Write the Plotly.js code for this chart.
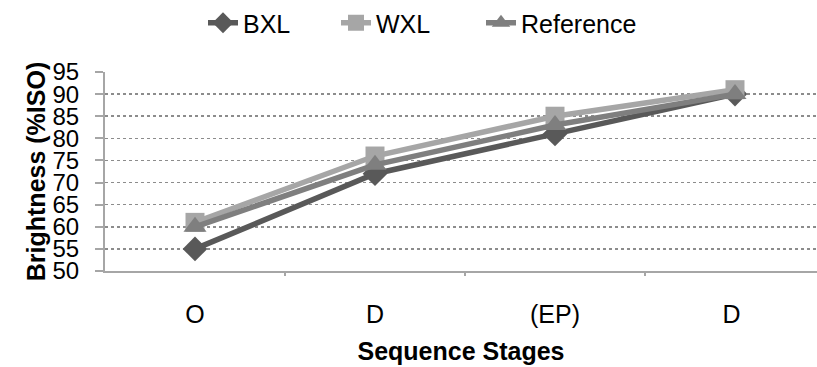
<!DOCTYPE html>
<html>
<head>
<meta charset="utf-8">
<script src="https://cdn.plot.ly/plotly-3.0.1.min.js"></script>
<style>
  html, body { margin: 0; padding: 0; background: #fff; }
  #chart { width: 817px; height: 367px; }
</style>
</head>
<body>
<div id="chart"></div>
<script>
// Brightness across the sequence stages
const stages = ['O', 'D', '(EP)', 'D '];
const bxl = [55, 72, 81, 90];
const wxl = [61, 76, 85, 91];
const reference = [60, 74, 83, 90];
const yTicks = [50, 55, 60, 65, 70, 75, 80, 85, 90, 95];

const FONT = 'Liberation Sans, Arial, sans-serif';
const idx = stages.map((_, i) => i);

function series(name, values, color, symbol, size, legendId) {
  return {
    type: 'scatter',
    mode: 'lines+markers',
    name: name,
    legend: legendId,
    x: idx,
    y: values,
    line: { color: color, width: 5.5 },
    marker: { color: color, symbol: symbol, size: size }
  };
}

const data = [
  series('BXL', bxl, '#595959', 'diamond', 19, 'legend'),
  series('WXL', wxl, '#a6a6a6', 'square', 19, 'legend2'),
  series('Reference', reference, '#7f7f7f', 'triangle-up', 20, 'legend3')
];

// one legend box per series, laid out in a row above the plot
function legendAt(px) {
  return {
    orientation: 'h',
    xref: 'container', yref: 'container',
    x: px / 817, xanchor: 'left',
    y: 1.0, yanchor: 'top',
    font: { family: FONT, size: 25, color: '#000' },
    bgcolor: 'rgba(0,0,0,0)'
  };
}

const layout = {
  width: 817,
  height: 367,
  margin: { l: 105, r: 0, t: 72, b: 96 },
  paper_bgcolor: '#ffffff',
  plot_bgcolor: '#ffffff',
  font: { family: FONT, size: 24, color: '#000' },
  showlegend: true,
  legend: legendAt(203),
  legend2: legendAt(336),
  legend3: legendAt(481),
  xaxis: {
    type: 'linear',
    range: [-0.5, -0.5 + 712 / 180],
    tickmode: 'array',
    tickvals: idx,
    ticktext: stages,
    ticks: '',
    showgrid: false,
    zeroline: false,
    showline: true,
    linecolor: '#a6a6a6',
    linewidth: 2,
    ticklabelstandoff: 20,
    tickfont: { family: FONT, size: 25, color: '#000' },
    title: {
      text: '<b>Sequence Stages</b>',
      font: { family: FONT, size: 25, color: '#000' },
      standoff: 15
    }
  },
  yaxis: {
    range: [50, 95],
    tickmode: 'array',
    tickvals: yTicks,
    ticks: 'outside',
    ticklen: 8,
    tickwidth: 2,
    tickcolor: '#a6a6a6',
    showline: true,
    linecolor: '#a6a6a6',
    linewidth: 2,
    zeroline: false,
    showgrid: true,
    gridcolor: '#8c8c8c',
    gridwidth: 1.5,
    griddash: 'dot',
    ticklabelstandoff: 11,
    tickfont: { family: FONT, size: 24, color: '#000' },
    title: {
      text: '<b>Brightness (%ISO)</b>',
      font: { family: FONT, size: 25, color: '#000' },
      standoff: 0
    }
  },
  shapes: [
    // category boundary tick marks under the x axis
    ...[0.5, 1.5, 2.5].map(v => ({
      type: 'line', xref: 'x', yref: 'paper',
      x0: v, x1: v, y0: 0, y1: -0.025,
      line: { color: '#a6a6a6', width: 2 }
    }))
  ]
};

Plotly.newPlot('chart', data, layout, { staticPlot: true, displayModeBar: false });
</script>
</body>
</html>
